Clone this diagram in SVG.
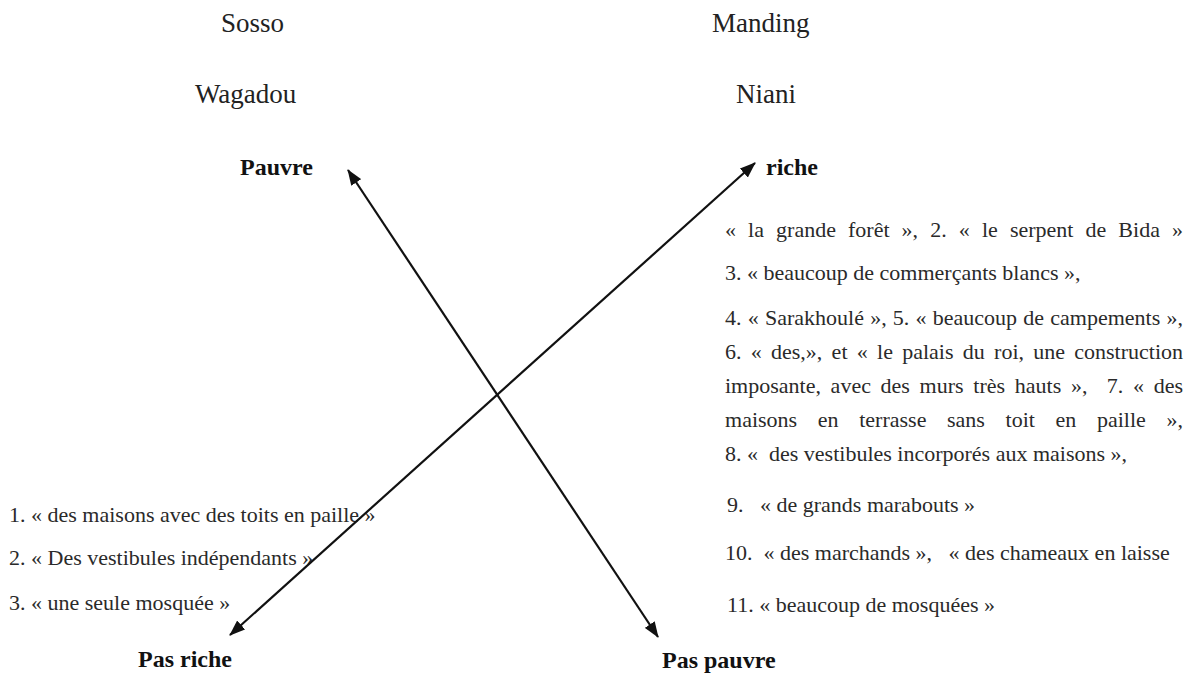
<svg xmlns="http://www.w3.org/2000/svg" width="1186" height="677" viewBox="0 0 1186 677">
<style>
  .lbl { font-family: "Liberation Serif", "Times New Roman", serif; font-size: 27px; fill: #222; }
  .bold { font-family: "Liberation Serif", "Times New Roman", serif; font-size: 24px; font-weight: bold; fill: #111; }
  .body { font-family: "Liberation Serif", "Times New Roman", serif; font-size: 22px; fill: #2a2a2a; white-space: pre; }
  .arrow { stroke: #111; stroke-width: 2.2; fill: none; }
</style>
<defs>
  <marker id="ah" viewBox="0 0 16 12" refX="15" refY="6" markerWidth="16" markerHeight="12" markerUnits="userSpaceOnUse" orient="auto-start-reverse">
    <path d="M0,0 L16,6 L0,12 z" fill="#111"/>
  </marker>
</defs>
<rect width="1186" height="677" fill="#fff"/>
<g id="n-sosso"><text class="lbl" x="221" y="32">Sosso</text></g>
<g id="n-wagadou"><text class="lbl" x="195" y="103">Wagadou</text></g>
<g id="n-pauvre"><text class="bold" x="240" y="175">Pauvre</text></g>
<g id="n-manding"><text class="lbl" x="712" y="32">Manding</text></g>
<g id="n-niani"><text class="lbl" x="736" y="103">Niani</text></g>
<g id="n-riche"><text class="bold" x="766" y="175">riche</text></g>
<g id="n-pasriche"><text class="bold" x="138" y="667">Pas riche</text></g>
<g id="n-paspauvre"><text class="bold" x="662" y="668">Pas pauvre</text></g>
<g id="n-right-list">
  <text class="body" x="725" y="237" word-spacing="6.6" textLength="458" lengthAdjust="spacing">« la grande forêt », 2. « le serpent de Bida »</text>
  <text class="body" x="725" y="280">3. « beaucoup de commerçants blancs »,</text>
  <text class="body" x="725" y="325" word-spacing="0.7" textLength="458" lengthAdjust="spacing">4. « Sarakhoulé », 5. « beaucoup de campements »,</text>
  <text class="body" x="725" y="359" word-spacing="3.8" textLength="458" lengthAdjust="spacing">6. « des,», et « le palais du roi, une construction</text>
  <text class="body" x="725" y="393" word-spacing="4.2" textLength="458" lengthAdjust="spacing">imposante, avec des murs très hauts »,  7. « des</text>
  <text class="body" x="725" y="427" word-spacing="15.1" textLength="458" lengthAdjust="spacing">maisons en terrasse sans toit en paille »,</text>
  <text class="body" x="725" y="461">8. «  des vestibules incorporés aux maisons »,</text>
  <text class="body" x="727" y="512">9.   « de grands marabouts »</text>
  <text class="body" x="725" y="560">10.  « des marchands »,   « des chameaux en laisse</text>
  <text class="body" x="727" y="612">11. « beaucoup de mosquées »</text>
</g>
<g id="n-left-list">
  <text class="body" x="9" y="522">1. « des maisons avec des toits en paille »</text>
  <text class="body" x="9" y="565">2. « Des vestibules indépendants »</text>
  <text class="body" x="9" y="610">3. « une seule mosquée »</text>
</g>
<g id="connectors">
  <line class="arrow" x1="348" y1="170" x2="658" y2="637" marker-start="url(#ah)" marker-end="url(#ah)"/>
  <line class="arrow" x1="755" y1="163" x2="230" y2="635" marker-start="url(#ah)" marker-end="url(#ah)"/>
</g>
</svg>
